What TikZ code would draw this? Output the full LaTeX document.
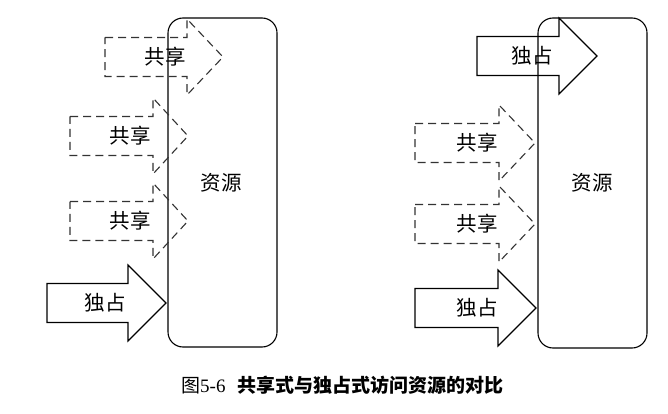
\documentclass[tikz,border=0pt]{standalone}
\usepackage{fontspec}
\setmainfont{Liberation Serif}
\newfontfamily\cjk{Noto Sans CJK SC}
\usepackage{tikz}
\usetikzlibrary{positioning}

% block arrow: style, left end, neck, tip, middle y
\newcommand{\accessarrow}[5]{%
  \draw[#1] (#2,#5-19.5) -- (#3,#5-19.5) -- (#3,#5-38) -- (#4,#5)
    -- (#3,#5+38) -- (#3,#5+19.5) -- (#2,#5+19.5) -- cycle;}

\begin{document}
\begin{tikzpicture}[
    x=1pt, y=-1pt,
    every node/.style={font=\cjk\fontsize{20.5}{20.5}\selectfont},
    resbox/.style={draw, line width=1.1pt, rounded corners=15pt},
    shared/.style={draw=black!80, line width=1.1pt, dash pattern=on 8pt off 5pt},
    exclusive/.style={draw, line width=1.1pt}
]
\useasboundingbox (0,0) rectangle (668,414);

% Left: shared access
\draw[resbox] (168,18) rectangle (277,347);
\node (resL) at (221,183) {资源};

\accessarrow{shared}{105}{187}{223}{57}
\node (shareA) at (165,57) {共享};
\accessarrow{shared}{70}{153}{188}{136}
\node (shareB) at (130,136) {共享};
\accessarrow{shared}{70}{153}{188}{221}
\node (shareC) at (130,221) {共享};
\accessarrow{exclusive}{47}{128}{166}{303}
\node (exclA) at (105,303) {独占};

% Right: exclusive access
\draw[resbox] (538,18) rectangle (647,348);
\node (resR) at (592,183) {资源};

\accessarrow{exclusive}{477}{559}{597}{56}
\node (exclB) at (532,56) {独占};
\accessarrow{shared}{415}{499}{535}{143}
\node (shareD) at (477,143) {共享};
\accessarrow{shared}{415}{499}{535}{224}
\node (shareE) at (477,224) {共享};
\accessarrow{exclusive}{415}{498}{536}{308}
\node (exclC) at (477,308) {独占};

% Caption
\node[anchor=west, font=\fontsize{19}{19}\selectfont, inner sep=0pt] (caption) at (181,385)
  {{\cjk 图}5-6\hspace{12pt}{\cjk\bfseries 共享式与独占式访问资源的对比}};

\end{tikzpicture}
\end{document}
